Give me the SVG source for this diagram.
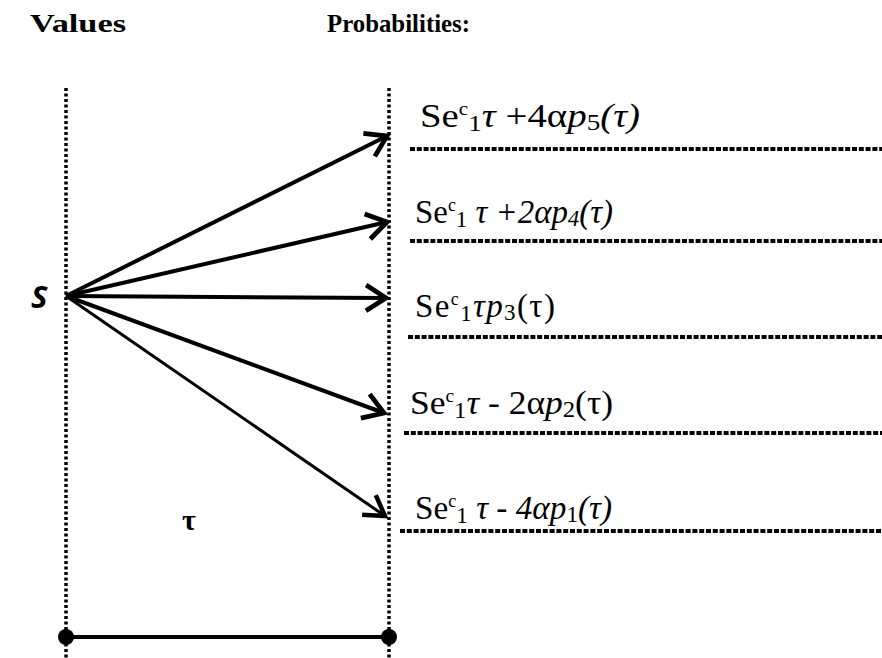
<svg xmlns="http://www.w3.org/2000/svg" width="882" height="658" viewBox="0 0 882 658">
<style>
.vdot{stroke:#000;stroke-width:3.5;stroke-dasharray:3 2.5;fill:none}
.hdot{stroke:#000;stroke-width:4;stroke-dasharray:5 1.8;fill:none}
.arr{stroke:#000;stroke-width:4;fill:none;marker-end:url(#ah)}
.arr2{stroke:#000;stroke-width:3;fill:none;marker-end:url(#ah2)}
.head{font-family:'Liberation Serif','Times New Roman',serif;font-weight:bold;font-size:26px;fill:#000}
.lab{font-family:'Liberation Serif','Times New Roman',serif;font-size:33px;fill:#000}
.it{font-style:italic}
</style>
<defs>
<marker id="ah" markerWidth="8" markerHeight="8" refX="6" refY="4" orient="auto" markerUnits="strokeWidth">
<path d="M1,0.8 L6,4 L1,7.2" stroke="#000" stroke-width="1.2" fill="none"/>
</marker>
<marker id="ah2" markerWidth="10" markerHeight="10" refX="7.5" refY="5" orient="auto" markerUnits="strokeWidth">
<path d="M1,1 L7.5,5 L1,9" stroke="#000" stroke-width="1.5" fill="none"/>
</marker>
</defs>
<rect width="882" height="658" fill="#fff"/>
<text class="head" x="30" y="32" textLength="96" lengthAdjust="spacingAndGlyphs" font-size="25">Values</text>
<text class="head" x="327" y="32" textLength="143" lengthAdjust="spacingAndGlyphs">Probabilities:</text>
<g id="axes">
<line class="vdot" x1="66" y1="88" x2="66" y2="658"/>
<line class="vdot" x1="389" y1="88" x2="389" y2="658"/>
</g>
<g id="S"><text x="31" y="308" font-family="'Open Sans',sans-serif" font-weight="bold" font-style="italic" font-size="31">S</text></g>
<g id="connectors">
<line class="arr" x1="66" y1="296" x2="387" y2="136"/>
<line class="arr" x1="66" y1="296" x2="387" y2="222"/>
<line class="arr" x1="66" y1="296" x2="386" y2="298"/>
<line class="arr" x1="66" y1="296" x2="384" y2="413"/>
<line class="arr2" x1="66" y1="296" x2="385" y2="516"/>
</g>
<g id="lines">
<line class="hdot" x1="410" y1="149" x2="882" y2="149"/>
<line class="hdot" x1="410" y1="241" x2="882" y2="241"/>
<line class="hdot" x1="408" y1="337" x2="882" y2="337"/>
<line class="hdot" x1="404" y1="433" x2="882" y2="433"/>
<line class="hdot" x1="400" y1="531" x2="882" y2="531"/>
</g>
<g id="p5"><text class="lab" x="420" y="127" textLength="220" lengthAdjust="spacingAndGlyphs">Se<tspan dy="-12" font-size="18">c</tspan><tspan dy="16" font-size="23">1</tspan><tspan dy="-4" class="it">τ</tspan> +4α<tspan class="it">p</tspan><tspan font-size="23" dy="3">5</tspan><tspan dy="-3" class="it">(τ)</tspan></text></g>
<g id="p4"><text class="lab" x="415" y="223" textLength="198" lengthAdjust="spacingAndGlyphs">Se<tspan dy="-12" font-size="18">c</tspan><tspan dy="16" font-size="23">1</tspan><tspan dy="-4" class="it"> τ +2αp</tspan><tspan font-size="23" dy="3" class="it">4</tspan><tspan dy="-3" class="it">(τ)</tspan></text></g>
<g id="p3"><text class="lab" x="415" y="317" textLength="140" lengthAdjust="spacing">Se<tspan dy="-12" font-size="18">c</tspan><tspan dy="16" font-size="23">1</tspan><tspan dy="-4" class="it">τp</tspan><tspan font-size="23" dy="3">3</tspan><tspan dy="-3">(τ)</tspan></text></g>
<g id="p2"><text class="lab" x="410" y="414" textLength="203" lengthAdjust="spacingAndGlyphs">Se<tspan dy="-12" font-size="18">c</tspan><tspan dy="16" font-size="23">1</tspan><tspan dy="-4" class="it">τ</tspan> - 2α<tspan class="it">p</tspan><tspan font-size="23" dy="3">2</tspan><tspan dy="-3">(τ)</tspan></text></g>
<g id="p1"><text class="lab" x="415" y="519" textLength="197" lengthAdjust="spacingAndGlyphs">Se<tspan dy="-12" font-size="18">c</tspan><tspan dy="16" font-size="23">1</tspan><tspan dy="-4" class="it"> τ - 4αp</tspan><tspan font-size="23" dy="3">1</tspan><tspan dy="-3" class="it">(τ)</tspan></text></g>
<g id="tau"><text x="182" y="530" font-family="'Liberation Serif',serif" font-weight="bold" font-size="30">τ</text></g>
<g id="interval">
<line x1="66" y1="637" x2="389" y2="637" stroke="#000" stroke-width="4"/>
<circle cx="66" cy="637" r="8" fill="#000"/>
<circle cx="389" cy="637" r="8" fill="#000"/>
</g>
</svg>
